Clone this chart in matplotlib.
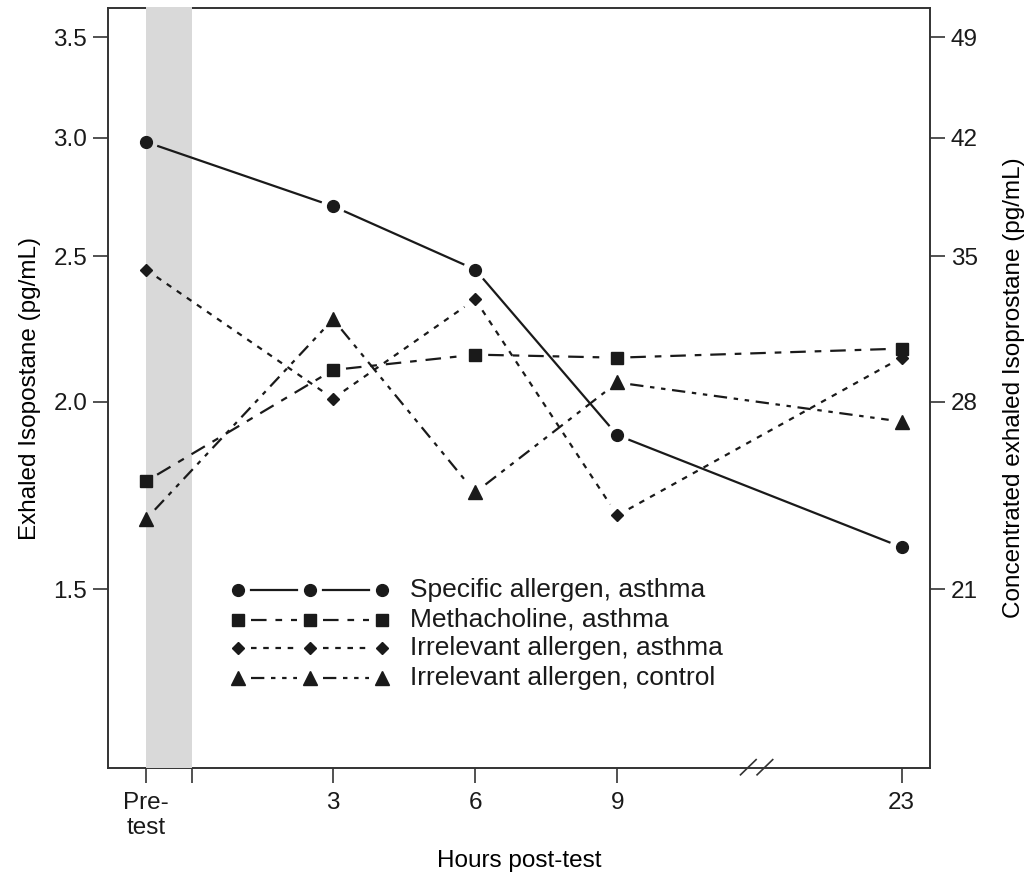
import matplotlib
matplotlib.use("Agg")
import matplotlib.pyplot as plt
import numpy as np

plt.rcParams.update({"font.family": ["Liberation Sans", "DejaVu Sans"],
                     "font.size": 17.5, "text.color": "#1a1a1a",
                     "axes.edgecolor": "#333333", "xtick.color": "#333333",
                     "ytick.color": "#333333", "xtick.labelcolor": "#1a1a1a",
                     "ytick.labelcolor": "#1a1a1a"})

# --- data -----------------------------------------------------------------
tick_labels = ["Pre-\ntest", "3", "6", "9", "23"]
specific_allergen = [2.98, 2.70, 2.45, 1.90, 1.60]
methacholine = [1.77, 2.10, 2.15, 2.14, 2.17]
irrelevant_asthma = [2.45, 2.01, 2.34, 1.68, 2.14]
irrelevant_control = [1.67, 2.27, 1.74, 2.06, 1.94]
right_ratio = 14  # concentrated scale = 14 x exhaled

# layout: x positions of time points (23 h shown after an axis break)
xpos = np.array([-0.95, 3, 6, 9, 15])
INK = "#1a1a1a"
GAP = 13  # px left open around each point, like R type="b"

series = [
    ("Specific allergen, asthma", specific_allergen, "o", "-", 8.5),
    ("Methacholine, asthma", methacholine, "s", (0, (7, 4, 3, 4)), 8),
    ("Irrelevant allergen, asthma", irrelevant_asthma, "D", (0, (2.5, 3)), 6.5),
    ("Irrelevant allergen, control", irrelevant_control, "^", (0, (6, 3, 2, 3, 2, 3)), 10),
]

fig = plt.figure(figsize=(10.3, 8.73), dpi=100)
ax = fig.add_axes([0.1049, 0.1203, 0.7980, 0.8705])
ax.set_yscale("log")
ylo, yhi = 1.14, 3.66
ax.set_ylim(ylo, yhi)
ax.set_xlim(-1.75, 15.6)


def gapped(ax, xs, ys, trans, ls, mk, ms):
    """Segments between points, shortened by GAP px at each end."""
    pts = trans.transform(np.column_stack([xs, ys]))
    inv = trans.inverted()
    for p, q in zip(pts[:-1], pts[1:]):
        d = q - p
        n = np.hypot(*d)
        if n <= 2 * GAP:
            continue
        a, b = p + d / n * GAP, q - d / n * GAP
        seg = inv.transform(np.array([a, b]))
        ax.plot(seg[:, 0], seg[:, 1], color=INK, lw=1.6, ls=ls,
                transform=trans, zorder=4, clip_on=False)
    ax.plot(xs, ys, ls="none", marker=mk, ms=ms, color=INK, mec=INK,
            transform=trans, zorder=6, clip_on=False)


# grey band covers the top frame line, as in the original
ax.axvspan(-0.95, 0.02, ymin=0.0, ymax=1.0015, color="#d9d9d9", lw=0,
           zorder=3, clip_on=False)

for label, vals, mk, ls, ms in series:
    gapped(ax, xpos, vals, ax.transData, ls, mk, ms)

# legend drawn by hand so the line gaps match
leg_x = [0.158, 0.246, 0.333]
leg_y = [0.234, 0.195, 0.158, 0.118]
for (label, vals, mk, ls, ms), yy in zip(series, leg_y):
    gapped(ax, leg_x, [yy] * 3, ax.transAxes, ls, mk, ms)
    ax.text(0.367, yy, label, transform=ax.transAxes, va="center",
            ha="left", fontsize=19)

yt = [1.5, 2.0, 2.5, 3.0, 3.5]
ax.set_yticks(yt)
ax.set_yticklabels([f"{v:.1f}" for v in yt])
ax.yaxis.set_minor_locator(matplotlib.ticker.NullLocator())
ax.set_xticks(list(xpos[:1]) + [0.02] + list(xpos[1:]))
ax.set_xticklabels([tick_labels[0], ""] + tick_labels[1:])
ax.tick_params(direction="out", length=11, width=1.2, pad=4)
ax.tick_params(axis="x", pad=6)
for s in ax.spines.values():
    s.set_linewidth(1.4)

ax2 = ax.twinx()
ax2.set_yscale("log")
ax2.set_ylim(ylo * right_ratio, yhi * right_ratio)
rt = [v * right_ratio for v in yt]
ax2.set_yticks(rt)
ax2.set_yticklabels([f"{v:.0f}" for v in rt])
ax2.yaxis.set_minor_locator(matplotlib.ticker.NullLocator())
ax2.tick_params(direction="out", length=11, width=1.2, pad=4)
for s in ax2.spines.values():
    s.set_visible(False)

# axis break marks between 9 and 23
trans = ax.get_xaxis_transform()
for x0 in (11.6, 11.95):
    ax.plot([x0, x0 + 0.33], [-0.009, 0.011], color="#333333", lw=1.2,
            transform=trans, clip_on=False, zorder=7)

ax.set_ylabel("Exhaled Isopostane (pg/mL)", labelpad=9)
ax2.set_ylabel("Concentrated exhaled Isoprostane (pg/mL)", labelpad=18)
ax.set_xlabel("Hours post-test", labelpad=8)

fig.savefig("out.png", dpi=100)
